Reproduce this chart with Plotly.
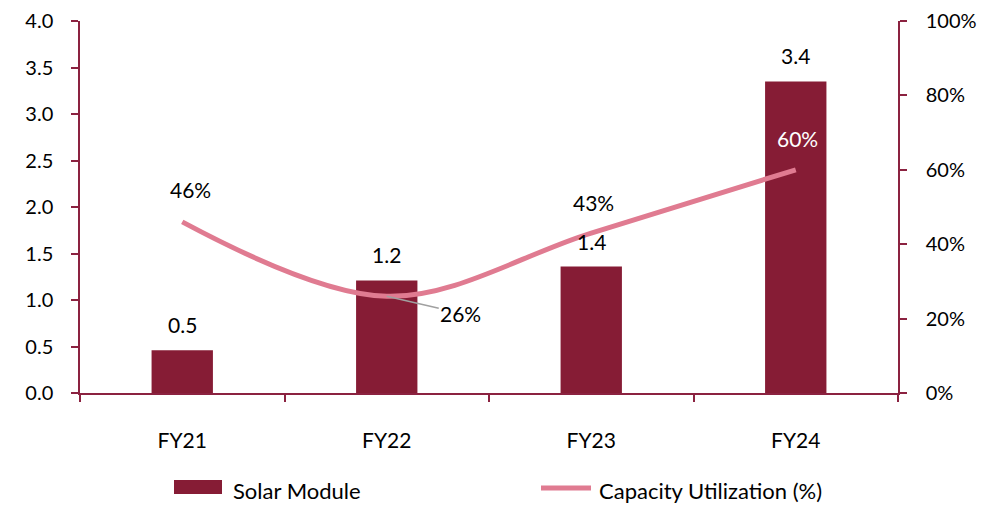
import plotly.graph_objects as go

categories = ["FY21", "FY22", "FY23", "FY24"]
solar_module = [0.46, 1.21, 1.36, 3.35]
solar_labels = ["0.5", "1.2", "1.4", "3.4"]
capacity_util = [46, 26, 43, 60]
util_labels = ["46%", "26%", "43%", "60%"]
left_ticks = [0, 0.5, 1.0, 1.5, 2.0, 2.5, 3.0, 3.5, 4.0]
right_ticks = [0, 20, 40, 60, 80, 100]
right_tick_text = ["0%", "20%", "40%", "60%", "80%", "100%"]
series_names = ["Solar Module", "Capacity Utilization (%)"]

BAR = "#861C35"
LINE = "#E07B91"
AXIS = "#8B2240"
FONT = "Lato"
FS = 21
FS_TICK = 20
FS_LEG = 22

OFF = 8  # page body margin
W, H = 1005 - OFF, 506 - OFF
ML, MR, MT, MB = 72, 107, 13, 113
PW, PH = W - ML - MR, H - MT - MB


def px_x(px):
    return (px - OFF - ML) / PW


def px_y(py):
    return (H - MB - (py - OFF)) / PH


fig = go.Figure()
fig.add_trace(go.Bar(
    x=categories, y=solar_module, name=series_names[0],
    marker=dict(color=BAR, line=dict(width=0)), width=0.30, showlegend=False,
))
fig.add_trace(go.Scatter(
    x=categories, y=capacity_util, name=series_names[1],
    yaxis="y2", mode="lines", showlegend=False,
    line=dict(color=LINE, width=5, shape="spline", smoothing=1.0),
))

ann = []
for c, v, t in zip(categories, solar_module, solar_labels):
    ann.append(dict(x=c, y=v, yref="y", text=t, showarrow=False,
                    yanchor="bottom", yshift=11,
                    font=dict(family=FONT, size=FS, color="#000000")))

offsets = {0: (8, 18, "#000000"), 2: (2, 16, "#000000"), 3: (2, 17, "#FFFFFF")}
for i, (c, v, t) in enumerate(zip(categories, capacity_util, util_labels)):
    if i == 1:
        ann.append(dict(x=c, y=v, xref="x", yref="y2", text=t, showarrow=True,
                        arrowhead=0, arrowwidth=1.5, arrowcolor="#A0A0A0",
                        ax=74, ay=17, standoff=0,
                        font=dict(family=FONT, size=FS, color="#000000")))
    else:
        dx, dy, col = offsets[i]
        ann.append(dict(x=c, y=v, xref="x", yref="y2", text=t, showarrow=False,
                        yanchor="bottom", yshift=dy, xshift=dx,
                        font=dict(family=FONT, size=FS, color=col)))

# manual legend
shapes = [
    dict(type="rect", xref="paper", yref="paper",
         x0=px_x(174), x1=px_x(222), y0=px_y(494), y1=px_y(480),
         fillcolor=BAR, line=dict(width=0)),
    dict(type="line", xref="paper", yref="paper",
         x0=px_x(541), x1=px_x(591), y0=px_y(488), y1=px_y(488),
         line=dict(color=LINE, width=5)),
]
ann.append(dict(xref="paper", yref="paper", x=px_x(231), y=px_y(490),
                xanchor="left", yanchor="middle", text=series_names[0], showarrow=False,
                font=dict(family=FONT, size=FS_LEG, color="#000000")))
ann.append(dict(xref="paper", yref="paper", x=px_x(597), y=px_y(490),
                xanchor="left", yanchor="middle", text=series_names[1], showarrow=False,
                font=dict(family=FONT, size=FS_LEG, color="#000000")))

fig.update_layout(
    width=W, height=H,
    margin=dict(l=ML, r=MR, t=MT, b=MB, autoexpand=False),
    paper_bgcolor="white", plot_bgcolor="white",
    font=dict(family=FONT, size=FS, color="#000000"),
    showlegend=False,
    xaxis=dict(
        type="category", showgrid=False, showline=True, linecolor=AXIS, linewidth=1.5,
        ticks="outside", tickson="boundaries", ticklen=7, tickcolor=AXIS, tickwidth=1.5,
        ticklabelstandoff=28, zeroline=False, range=[-0.5, 3.5], automargin=False,
        tickfont=dict(family=FONT, size=FS),
    ),
    yaxis=dict(
        range=[0, 4.0], tickvals=left_ticks, tickformat=".1f",
        showgrid=False, showline=True, linecolor=AXIS, linewidth=1.5,
        ticks="outside", ticklen=7, tickcolor=AXIS, tickwidth=1.5,
        ticklabelstandoff=14, zeroline=False, automargin=False,
        tickfont=dict(family=FONT, size=FS_TICK),
    ),
    yaxis2=dict(
        range=[0, 100], tickvals=right_ticks, ticktext=right_tick_text,
        overlaying="y", side="right",
        showgrid=False, showline=True, linecolor=AXIS, linewidth=1.5,
        ticks="outside", ticklen=7, tickcolor=AXIS, tickwidth=1.5,
        ticklabelstandoff=15, zeroline=False, automargin=False,
        tickfont=dict(family=FONT, size=FS_TICK),
    ),
    shapes=shapes,
    annotations=ann,
)

fig.write_html("out.html")
